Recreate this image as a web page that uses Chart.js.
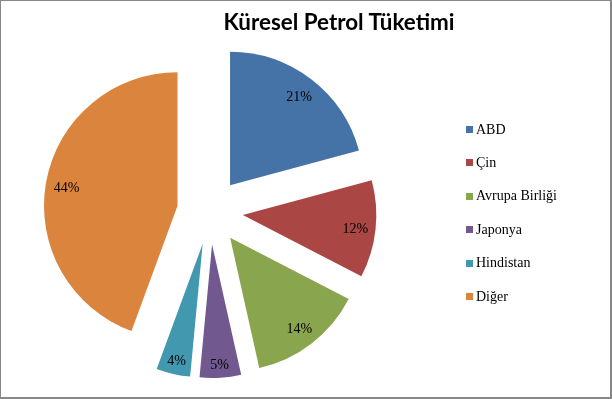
<!DOCTYPE html>
<html>
<head>
<meta charset="utf-8">
<script src="https://cdn.jsdelivr.net/npm/chart.js@4/dist/chart.umd.min.js"></script>
<style>
  html, body { margin: 0; padding: 0; background: #fff; }
  #wrap { position: relative; width: 612px; height: 399px; overflow: hidden; background: #fff; }
  #c { position: absolute; left: 0; top: 0; }
  #title { position: absolute; left: 339px; top: 8px; transform: translateX(-50%); white-space: nowrap;
           font-family: Lato, "Open Sans", sans-serif; font-weight: bold; font-size: 22.4px; color: #000; }
  .lg { position: absolute; left: 466px; height: 14px; display: flex; align-items: center; white-space: nowrap;
        font-family: "Liberation Serif", serif; font-size: 14px; line-height: 14px; color: #000; }
  .lg i { display: block; width: 7px; height: 7px; margin-right: 3px; }
  #frame { position: absolute; left: 0; top: 0; right: 0; bottom: 0; box-sizing: border-box;
           border-style: solid; border-color: #878787; border-width: 1px 2px 2px 1px; pointer-events: none; }
</style>
</head>
<body>
<div id="wrap">
  <canvas id="c" width="612" height="399"></canvas>
  <div id="title"></div>
  <div id="legend"></div>
  <div id="frame"></div>
</div>
<script>
const titleText = 'Küresel Petrol Tüketimi';
const categories = ['ABD', 'Çin', 'Avrupa Birliği', 'Japonya', 'Hindistan', 'Diğer'];
const shares = [20.8, 11.8, 13.9, 5.0, 4.1, 44.4];
const sliceColors = ['#4572A7', '#AA4643', '#89A54E', '#71588F', '#4198AF', '#DB843D'];

const EXPLODE = 33;
const RADIUS = 133.5;

// pure translation of each slice outward along its mid-angle (exploded pie)
const Arc = Chart.ArcElement || (Chart.elements && Chart.elements.ArcElement);
const baseDraw = Arc.prototype.draw;
Arc.prototype.draw = function (ctx) {
  const a = (this.startAngle + this.endAngle) / 2;
  ctx.save();
  ctx.translate(Math.cos(a) * EXPLODE, Math.sin(a) * EXPLODE);
  baseDraw.call(this, ctx);
  ctx.restore();
};

const pctLabels = {
  id: 'pctLabels',
  afterDatasetsDraw(chart) {
    const ctx = chart.ctx;
    const meta = chart.getDatasetMeta(0);
    const total = shares.reduce((s, v) => s + v, 0);
    ctx.save();
    ctx.font = '14px "Liberation Serif"';
    ctx.fillStyle = '#000';
    ctx.textAlign = 'center';
    ctx.textBaseline = 'middle';
    meta.data.forEach((arc, i) => {
      const p = arc.getProps(['x', 'y', 'startAngle', 'endAngle', 'outerRadius'], true);
      const a = (p.startAngle + p.endAngle) / 2;
      const text = Math.round(shares[i] / total * 100) + '%';
      const w = ctx.measureText(text).width;
      const h = 13;
      // keep the label box just inside the rim
      const extent = (w / 2) * Math.abs(Math.cos(a)) + (h / 2) * Math.abs(Math.sin(a));
      const d = EXPLODE + p.outerRadius - 7 - extent;
      ctx.fillText(text, p.x + Math.cos(a) * d, p.y + Math.sin(a) * d + 2);
    });
    ctx.restore();
  }
};

new Chart(document.getElementById('c'), {
  type: 'pie',
  data: {
    labels: categories,
    datasets: [{
      data: shares,
      backgroundColor: sliceColors,
      borderWidth: 0,
      offset: 0,
      radius: RADIUS
    }]
  },
  options: {
    responsive: false,
    animation: false,
    events: [],
    layout: { padding: { left: 0, right: 192, top: 24, bottom: 0 } },
    plugins: {
      legend: { display: false },
      title: { display: false },
      tooltip: { enabled: false }
    }
  },
  plugins: [pctLabels]
});

document.getElementById('title').textContent = titleText;
const legend = document.getElementById('legend');
const rowTop = 129.5, rowStep = 33.4;
categories.forEach((name, i) => {
  const row = document.createElement('div');
  row.className = 'lg';
  row.style.top = (rowTop + i * rowStep - 7) + 'px';
  const box = document.createElement('i');
  box.style.background = sliceColors[i];
  const txt = document.createElement('span');
  txt.textContent = name;
  row.appendChild(box);
  row.appendChild(txt);
  legend.appendChild(row);
});
</script>
</body>
</html>
